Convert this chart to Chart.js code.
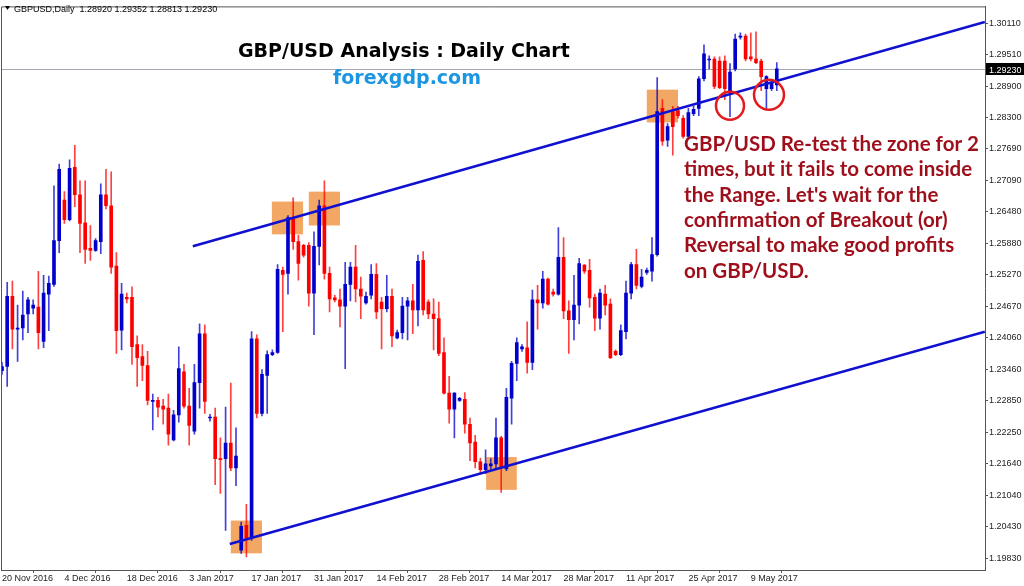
<!DOCTYPE html>
<html lang="en">
<head>
<meta charset="UTF-8">
<title>GBP/USD Analysis : Daily Chart</title>
<script src="https://cdn.jsdelivr.net/npm/chart.js"></script>
<style>
    html, body { margin: 0; padding: 0; background: #fff; }
    #wrap { width: 1024px; height: 586px; position: relative; }
</style>
</head>
<body>
<div id="wrap"><canvas id="chart"></canvas></div>
<script>
// daily candles, 20 Nov 2016 .. 12 May 2017 (broker feed incl. sunday bars)
const symbol = 'GBPUSD,Daily';
const opens = [
    1.2343, 1.2351, 1.2486, 1.2423, 1.2425, 1.2452, 1.2463, 1.2465, 1.2399, 1.2490,
    1.2509, 1.2593, 1.2671, 1.2633, 1.2734, 1.2681, 1.2627, 1.2578, 1.2574, 1.2591,
    1.2681, 1.2660, 1.2544, 1.2421, 1.2484, 1.2484, 1.2393, 1.2370, 1.2353, 1.2284,
    1.2286, 1.2275, 1.2271, 1.2210, 1.2258, 1.2341, 1.2275, 1.2227, 1.2320, 1.2414,
    1.2252, 1.2254, 1.2174, 1.2174, 1.2204, 1.2156, 1.1998, 1.2046, 1.2021, 1.2404,
    1.2261, 1.2334, 1.2374, 1.2378, 1.2536, 1.2530, 1.2635, 1.2591, 1.2584, 1.2584,
    1.2492, 1.2582, 1.2660, 1.2530, 1.2483, 1.2479, 1.2467, 1.2509, 1.2542, 1.2500,
    1.2473, 1.2488, 1.2528, 1.2475, 1.2462, 1.2486, 1.2406, 1.2416, 1.2467, 1.2477,
    1.2460, 1.2555, 1.2475, 1.2452, 1.2443, 1.2378, 1.2300, 1.2269, 1.2286, 1.2288,
    1.2240, 1.2206, 1.2168, 1.2153, 1.2160, 1.2164, 1.2214, 1.2154, 1.2290, 1.2357,
    1.2385, 1.2387, 1.2359, 1.2479, 1.2473, 1.2519, 1.2494, 1.2490, 1.2561, 1.2458,
    1.2441, 1.2469, 1.2546, 1.2536, 1.2484, 1.2444, 1.2490, 1.2471, 1.2380, 1.2374,
    1.2418, 1.2492, 1.2547, 1.2505, 1.2532, 1.2534, 1.2566, 1.2847, 1.2786, 1.2841,
    1.2843, 1.2828, 1.2793, 1.2837, 1.2847, 1.2904, 1.2940, 1.2942, 1.2938, 1.2938,
    1.2881, 1.2923, 1.2984, 1.2986, 1.2946, 1.2942, 1.2938, 1.2885, 1.2885, 1.28920
];
const highs = [
    1.2359, 1.2513, 1.2515, 1.2469, 1.2496, 1.2484, 1.2479, 1.2534, 1.2526, 1.2525,
    1.2698, 1.2740, 1.2687, 1.2748, 1.2776, 1.2708, 1.2708, 1.2622, 1.2597, 1.2702,
    1.2730, 1.2725, 1.2570, 1.2511, 1.2492, 1.2504, 1.2410, 1.2393, 1.2380, 1.2298,
    1.2292, 1.2288, 1.2298, 1.2267, 1.2389, 1.2355, 1.2309, 1.2355, 1.2433, 1.2431,
    1.2259, 1.2271, 1.2214, 1.2273, 1.2319, 1.2233, 1.2052, 1.2086, 1.2418, 1.2412,
    1.2345, 1.2381, 1.2383, 1.2547, 1.2542, 1.2641, 1.2675, 1.2603, 1.2586, 1.2589,
    1.2610, 1.2671, 1.2708, 1.2542, 1.2488, 1.2500, 1.2551, 1.2551, 1.2584, 1.2523,
    1.2494, 1.2547, 1.2549, 1.2484, 1.2526, 1.2500, 1.2421, 1.2484, 1.2484, 1.2509,
    1.2565, 1.2572, 1.2479, 1.2481, 1.2475, 1.2406, 1.2332, 1.2301, 1.2292, 1.2301,
    1.2252, 1.2219, 1.2175, 1.2191, 1.2174, 1.2252, 1.2217, 1.2309, 1.2361, 1.2406,
    1.2393, 1.2437, 1.2498, 1.2507, 1.2534, 1.2521, 1.2500, 1.2618, 1.2599, 1.2477,
    1.2526, 1.2559, 1.2547, 1.2557, 1.2490, 1.2500, 1.2507, 1.2481, 1.2383, 1.2431,
    1.2515, 1.2551, 1.2576, 1.2538, 1.2540, 1.2599, 1.2906, 1.2864, 1.2818, 1.2851,
    1.2851, 1.2833, 1.2847, 1.2851, 1.2908, 1.2969, 1.2948, 1.2946, 1.2946, 1.2948,
    1.2933, 1.2990, 1.2992, 1.2990, 1.2992, 1.2994, 1.2942, 1.2910, 1.2900, 1.29352
];
const lows = [
    1.2336, 1.2313, 1.2385, 1.2361, 1.2402, 1.2416, 1.2452, 1.2385, 1.2387, 1.2420,
    1.2505, 1.2570, 1.2626, 1.2631, 1.2658, 1.2570, 1.2549, 1.2555, 1.2572, 1.2568,
    1.2654, 1.2530, 1.2376, 1.2383, 1.2473, 1.2355, 1.2313, 1.2324, 1.2277, 1.2229,
    1.2254, 1.2240, 1.2200, 1.2208, 1.2244, 1.2271, 1.2200, 1.2221, 1.2271, 1.2261,
    1.2246, 1.2124, 1.2107, 1.2036, 1.2151, 1.2122, 1.1992, 1.1985, 1.2017, 1.2252,
    1.2256, 1.2261, 1.2372, 1.2376, 1.2418, 1.2490, 1.2576, 1.2517, 1.2561, 1.2467,
    1.2412, 1.2546, 1.2519, 1.2456, 1.2475, 1.2427, 1.2347, 1.2477, 1.2475, 1.2443,
    1.2471, 1.2481, 1.2443, 1.2385, 1.2456, 1.2389, 1.2404, 1.2404, 1.2402, 1.2414,
    1.2429, 1.2450, 1.2443, 1.2383, 1.2372, 1.2298, 1.2242, 1.2214, 1.2284, 1.2223,
    1.2170, 1.2156, 1.2145, 1.2145, 1.2154, 1.2153, 1.2109, 1.2151, 1.2240, 1.2324,
    1.2380, 1.2338, 1.2345, 1.2423, 1.2463, 1.2469, 1.2486, 1.2488, 1.2443, 1.2376,
    1.2402, 1.2433, 1.2530, 1.2465, 1.2420, 1.2423, 1.2450, 1.2366, 1.2372, 1.2372,
    1.2404, 1.2481, 1.2500, 1.2502, 1.2528, 1.2515, 1.2563, 1.2776, 1.2774, 1.2757,
    1.2828, 1.2790, 1.2790, 1.2833, 1.2833, 1.2900, 1.2923, 1.2885, 1.2885, 1.2864,
    1.2831, 1.2919, 1.2980, 1.2938, 1.2938, 1.2933, 1.2881, 1.2847, 1.2881, 1.28813
];
const closes = [
    1.2351, 1.2486, 1.2423, 1.2425, 1.2450, 1.2479, 1.2469, 1.2416, 1.2492, 1.2511,
    1.2593, 1.2730, 1.2633, 1.2732, 1.2681, 1.2626, 1.2576, 1.2574, 1.2593, 1.2681,
    1.2660, 1.2542, 1.2420, 1.2490, 1.2481, 1.2389, 1.2368, 1.2353, 1.2286, 1.2286,
    1.2273, 1.2269, 1.2221, 1.2258, 1.2347, 1.2275, 1.2238, 1.2320, 1.2414, 1.2284,
    1.2254, 1.2174, 1.2172, 1.2204, 1.2156, 1.2179, 1.2044, 1.2021, 1.2404, 1.2261,
    1.2336, 1.2374, 1.2378, 1.2538, 1.2528, 1.2637, 1.2591, 1.2549, 1.2565, 1.2492,
    1.2582, 1.2660, 1.2530, 1.2481, 1.2479, 1.2467, 1.2509, 1.2542, 1.2500, 1.2486,
    1.2486, 1.2528, 1.2456, 1.2462, 1.2486, 1.2410, 1.2416, 1.2467, 1.2477, 1.2460,
    1.2553, 1.2460, 1.2452, 1.2443, 1.2376, 1.2300, 1.2269, 1.2300, 1.2290, 1.2240,
    1.2204, 1.2168, 1.2153, 1.2164, 1.2164, 1.2214, 1.2156, 1.2292, 1.2357, 1.2397,
    1.2389, 1.2359, 1.2479, 1.2473, 1.2519, 1.2471, 1.2490, 1.2561, 1.2458, 1.2441,
    1.2469, 1.2549, 1.2534, 1.2483, 1.2444, 1.2492, 1.2469, 1.2368, 1.2374, 1.2420,
    1.2492, 1.2547, 1.2507, 1.2523, 1.2536, 1.2566, 1.2841, 1.2784, 1.2812, 1.2812,
    1.2833, 1.2793, 1.2839, 1.2845, 1.2904, 1.2952, 1.2942, 1.2889, 1.2887, 1.2885,
    1.2917, 1.2980, 1.2986, 1.2942, 1.2942, 1.2935, 1.2908, 1.2908, 1.2896, 1.29230
];

// bottom axis labels sit on every 12th bar
const tickIndex = [0, 12, 24, 36, 48, 60, 72, 84, 96, 108, 120, 132, 144];
const tickLabels = ['20 Nov 2016', '4 Dec 2016', '18 Dec 2016', '3 Jan 2017', '17 Jan 2017', '31 Jan 2017',
    '14 Feb 2017', '28 Feb 2017', '14 Mar 2017', '28 Mar 2017', '11 Apr 2017', '25 Apr 2017', '9 May 2017'];
const priceTicks = [1.30110, 1.29510, 1.28900, 1.28300, 1.27690, 1.27090, 1.26480, 1.25880, 1.25270,
    1.24670, 1.24060, 1.23460, 1.22850, 1.22250, 1.21640, 1.21040, 1.20430, 1.19830];

// channel lines (bar index, price)
const upperLine = [{ x: 36.7, y: 1.2582 }, { x: 189, y: 1.3013 }];
const lowerLine = [{ x: 43.8, y: 1.2010 }, { x: 189, y: 1.2418 }];

// highlighted zones
const zoneFrom = [51.9, 59.0, 44.0, 93.1, 124.0];
const zoneTo = [57.9, 65.0, 50.0, 99.0, 130.0];
const zoneHigh = [1.2668, 1.2687, 1.2055, 1.2177, 1.2883];
const zoneLow = [1.2605, 1.2622, 1.1992, 1.2114, 1.2820];

// re-test circles
const circleIndex = [140, 147.5];
const circlePrice = [1.2852, 1.2873];

const noteLines = [
    'GBP/USD Re-test the zone for 2',
    'times, but it fails to come inside',
    'the Range. Let\'s wait for the',
    'confirmation of Breakout (or)',
    'Reversal to make good profits',
    'on GBP/USD.'
];

const BLUE = '#0000CD';
const RED = '#FF0000';
const idx = opens.map((_, i) => i);
const isUp = i => closes[i] >= opens[i];
const last = opens.length - 1;

const decor = {
    id: 'decor',
    beforeDatasetsDraw(chart) {
        const { ctx, chartArea: a, scales: { x, y } } = chart;
        ctx.save();
        ctx.fillStyle = '#F3A765';
        for (let k = 0; k < zoneFrom.length; k++) {
            const x0 = x.getPixelForValue(zoneFrom[k]), x1 = x.getPixelForValue(zoneTo[k]);
            const y0 = y.getPixelForValue(zoneHigh[k]), y1 = y.getPixelForValue(zoneLow[k]);
            ctx.fillRect(x0, y0, x1 - x0, y1 - y0);
        }
        // current price line
        const py = Math.round(y.getPixelForValue(closes[last])) + 0.5;
        ctx.strokeStyle = '#A4A8B4';
        ctx.lineWidth = 1;
        ctx.beginPath();
        ctx.moveTo(a.left, py);
        ctx.lineTo(a.right, py);
        ctx.stroke();
        ctx.restore();
    },
    afterDraw(chart) {
        const { ctx, chartArea: a, scales: { x, y } } = chart;
        ctx.save();
        // frame left and top
        ctx.strokeStyle = '#555';
        ctx.lineWidth = 1;
        ctx.beginPath();
        ctx.moveTo(a.left + 0.5, a.bottom);
        ctx.lineTo(a.left + 0.5, a.top + 0.5);
        ctx.lineTo(a.right, a.top + 0.5);
        ctx.stroke();

        // circles
        ctx.strokeStyle = '#E51A1F';
        ctx.lineWidth = 2.5;
        const radius = [14, 15];
        for (let k = 0; k < circleIndex.length; k++) {
            ctx.beginPath();
            ctx.arc(x.getPixelForValue(circleIndex[k]), y.getPixelForValue(circlePrice[k]), radius[k], 0, Math.PI * 2);
            ctx.stroke();
        }

        // header
        ctx.fillStyle = '#000';
        ctx.beginPath();
        ctx.moveTo(5, 6); ctx.lineTo(10, 6); ctx.lineTo(7.5, 10); ctx.closePath();
        ctx.fill();
        ctx.font = '9px "Liberation Sans"';
        ctx.textBaseline = 'alphabetic';
        ctx.fillText(symbol + '  ' + [opens[last], highs[last], lows[last], closes[last]].map(v => v.toFixed(5)).join(' '), 14, 11.5);

        // price tag on axis
        const py = Math.round(y.getPixelForValue(closes[last]));
        ctx.fillStyle = '#000';
        ctx.fillRect(a.right + 1, py - 6, 38, 12);
        ctx.fillStyle = '#fff';
        ctx.fillText(closes[last].toFixed(5), a.right + 4, py + 3.5);

        // titles
        ctx.fillStyle = '#000';
        ctx.font = 'bold 19px "DejaVu Sans"';
        ctx.fillText('GBP/USD Analysis : Daily Chart', 238, 57);
        ctx.fillStyle = '#1C96E0';
        ctx.fillText('forexgdp.com', 333, 84);

        ctx.fillStyle = '#9E0F1B';
        ctx.font = 'bold 20.5px Lato';
        noteLines.forEach((t, k) => ctx.fillText(t, 684, 151 + k * 25.3));
        ctx.restore();
    }
};

new Chart(document.getElementById('chart'), {
    type: 'bar',
    data: {
        datasets: [
            {
                type: 'line', data: upperLine, borderColor: '#1010D0', borderWidth: 2.5,
                pointRadius: 0, fill: false, order: 0
            },
            {
                type: 'line', data: lowerLine, borderColor: '#1010D0', borderWidth: 2.5,
                pointRadius: 0, fill: false, order: 0
            },
            {
                data: idx.map(i => ({ x: i, y: [opens[i], closes[i]] })),
                backgroundColor: idx.map(i => isUp(i) ? BLUE : RED),
                barThickness: 3, minBarLength: 1, grouped: false, borderWidth: 0, order: 1
            },
            {
                data: idx.map(i => ({ x: i, y: [lows[i], highs[i]] })),
                backgroundColor: idx.map(i => isUp(i) ? 'rgba(0,0,205,0.75)' : 'rgba(255,0,0,0.75)'),
                barThickness: 1, grouped: false, borderWidth: 0, order: 2
            }
        ]
    },
    options: {
        responsive: true,
        maintainAspectRatio: false,
        animation: false,
        layout: { padding: { left: 1, top: 2, right: 0, bottom: 0 } },
        plugins: { legend: { display: false }, tooltip: { enabled: false } },
        scales: {
            x: {
                type: 'linear', min: -0.19, max: 189.04, offset: false,
                afterBuildTicks: s => { s.ticks = tickIndex.map(v => ({ value: v })); },
                afterFit: s => { s.height = 16; },
                ticks: {
                    autoSkip: false, maxRotation: 0, align: 'start', padding: 0, color: '#222',
                    font: { family: 'Liberation Sans', size: 9 },
                    callback: (v, i) => tickLabels[i]
                },
                grid: { drawOnChartArea: false, drawTicks: true, tickLength: 3, color: '#555' },
                border: { display: true, color: '#555' }
            },
            y: {
                type: 'linear', position: 'right', min: 1.1960, max: 1.3043, beginAtZero: false,
                afterBuildTicks: s => { s.ticks = priceTicks.map(v => ({ value: v })); },
                afterFit: s => { s.width = 39; },
                ticks: {
                    autoSkip: false, padding: 1, color: '#222',
                    font: { family: 'Liberation Sans', size: 9 },
                    callback: v => v.toFixed(5)
                },
                grid: { drawOnChartArea: false, drawTicks: true, tickLength: 3, color: '#555' },
                border: { display: true, color: '#555' }
            }
        }
    },
    plugins: [decor]
});
</script>
</body>
</html>
